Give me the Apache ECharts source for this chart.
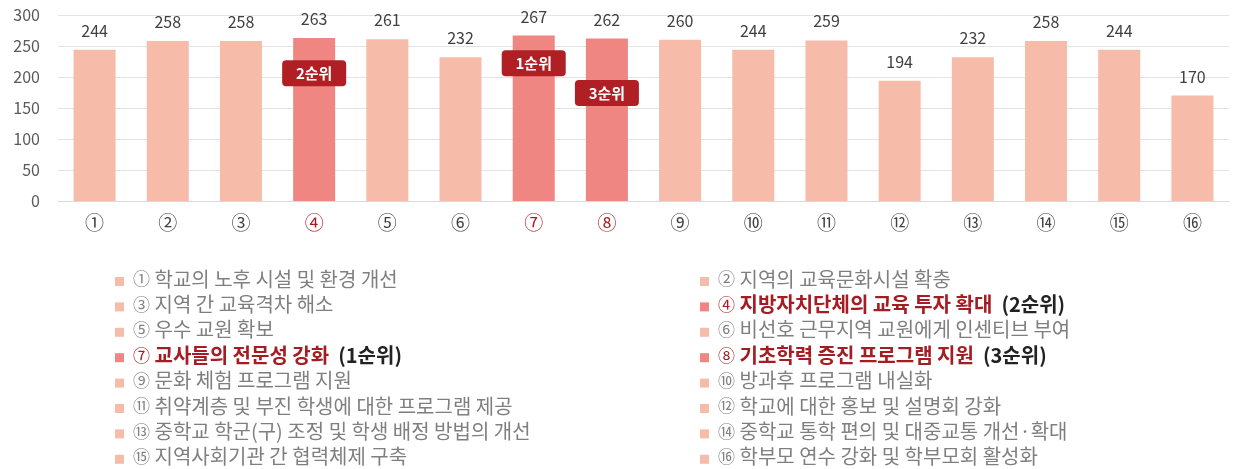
<!DOCTYPE html>
<html>
<head>
<meta charset="utf-8">
<script src="https://cdn.jsdelivr.net/npm/echarts@6/dist/echarts.min.js"></script>
<style>
html,body{margin:0;padding:0;background:#fff;}
#main{width:1237px;height:469px;}
</style>
</head>
<body>
<div id="main"></div>
<script type="text/javascript">
// 항목 번호와 응답 수
var categories = ['①','②','③','④','⑤','⑥','⑦','⑧','⑨','⑩','⑪','⑫','⑬','⑭','⑮','⑯'];
var values = [244, 258, 258, 263, 261, 232, 267, 262, 260, 244, 259, 194, 232, 258, 244, 170];
var itemNames = [
	'학교의 노후 시설 및 환경 개선',
	'지역의 교육문화시설 확충',
	'지역 간 교육격차 해소',
	'지방자치단체의 교육 투자 확대',
	'우수 교원 확보',
	'비선호 근무지역 교원에게 인센티브 부여',
	'교사들의 전문성 강화',
	'기초학력 증진 프로그램 지원',
	'문화 체험 프로그램 지원',
	'방과후 프로그램 내실화',
	'취약계층 및 부진 학생에 대한 프로그램 제공',
	'학교에 대한 홍보 및 설명회 강화',
	'중학교 학군(구) 조정 및 학생 배정 방법의 개선',
	'중학교 통학 편의 및 대중교통 개선·확대',
	'지역사회기관 간 협력체제 구축',
	'학부모 연수 강화 및 학부모회 활성화'
];
// 순위 (index -> 순위 표시, 뱃지 높이)
var rankIndex = [6, 3, 7];
var rankText = ['1순위', '2순위', '3순위'];
var rankBadgeY = [222, 206, 174];

var LIGHT = '#F6BBA9', HIGH = '#F08682', DARK = '#A51D22';
var FONT = 'Noto Sans CJK KR';

var myChart = echarts.init(document.getElementById('main'));

var barData = values.map(function(v, i){
	var hi = rankIndex.indexOf(i) >= 0;
	return { value: v, itemStyle: { color: hi ? HIGH : LIGHT } };
});

var markData = rankIndex.map(function(idx, k){
	return { coord: [categories[idx], rankBadgeY[k]], value: rankText[k] };
});

// 범례 (그래픽 텍스트)
var legendItems = [];
itemNames.forEach(function(name, i){
	var col = i % 2, row = Math.floor(i / 2);
	var x = col === 0 ? 115 : 700;
	var y = 281 + row * 25.4;
	var r = rankIndex.indexOf(i);
	legendItems.push({
		type: 'rect',
		left: x, top: y - 4,
		shape: { width: 9, height: 9 },
		style: { fill: r >= 0 ? HIGH : LIGHT }
	});
	var txt;
	if (r >= 0) {
		txt = '{hn|' + categories[i] + '} {h|' + name + '}{k|  (' + rankText[r] + ')}';
	} else {
		txt = '{nn|' + categories[i] + '} {n|' + name + '}';
	}
	legendItems.push({
		type: 'text',
		left: x + 18, top: y - 12,
		style: {
			text: txt,
			fontSize: 20,
			fontFamily: FONT,
			rich: {
				nn: { fontSize: 17, fill: '#7F7F7F', fontFamily: FONT },
				hn: { fontSize: 17, fill: DARK, fontFamily: FONT },
				n: { fontSize: 20, fill: '#7F7F7F', fontFamily: FONT },
				h: { fontSize: 20, fill: DARK, fontWeight: 'bold', fontFamily: FONT },
				k: { fontSize: 20, fill: '#222', fontWeight: 'bold', fontFamily: FONT }
			}
		}
	});
});

option = {
	animation: false,
	textStyle: { fontFamily: FONT },
	grid: { left: 58, right: 8, top: 15, bottom: 268 },
	xAxis: {
		type: 'category',
		data: categories,
		axisTick: { show: false },
		axisLine: { lineStyle: { color: '#D9D9D9' } },
		axisLabel: {
			margin: 12,
			fontSize: 19,
			color: function(v, i){ return rankIndex.indexOf(i) >= 0 ? DARK : '#404040'; }
		}
	},
	yAxis: {
		type: 'value',
		min: 0, max: 300, interval: 50,
		axisLabel: { fontSize: 16, color: '#595959', margin: 18 },
		splitLine: { lineStyle: { color: '#E3E3E3' } }
	},
	series: [{
		type: 'bar',
		barWidth: 42,
		data: barData,
		label: {
			show: true,
			position: 'top',
			distance: 11,
			fontSize: 16,
			color: '#404040'
		},
		markPoint: {
			symbol: 'path://M4,0 H60 Q64,0 64,4 V22 Q64,26 60,26 H4 Q0,26 0,22 V4 Q0,0 4,0 Z',
			symbolSize: [64, 26],
			itemStyle: { color: '#B01F24' },
			label: {
				color: '#fff',
				fontWeight: 'bold',
				fontSize: 15,
				formatter: function(p){ return p.value; }
			},
			data: markData
		}
	}],
	graphic: legendItems
};

myChart.setOption(option);
</script>
</body>
</html>
